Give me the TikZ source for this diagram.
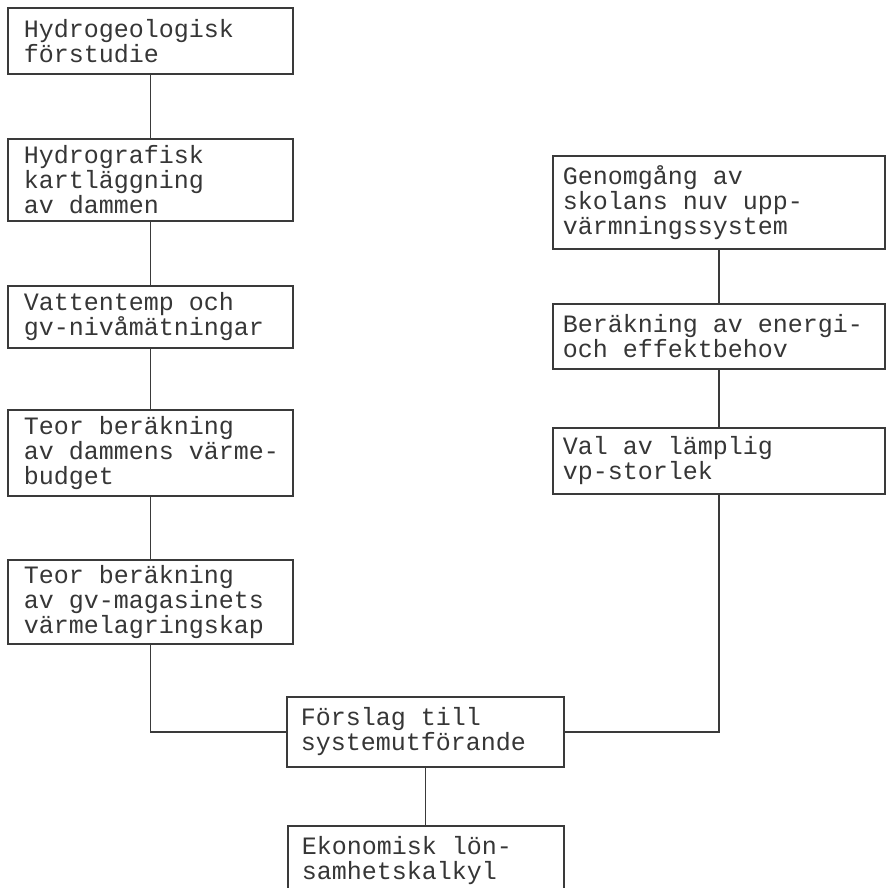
\documentclass[tikz,border=0pt]{standalone}
\usepackage{fontspec}
\newfontfamily\tw{Liberation Mono}
\definecolor{ink}{HTML}{3A3A3A}
\definecolor{txt}{HTML}{363636}
\newcommand{\twfont}{\tw\fontsize{25}{25}\selectfont\exhyphenpenalty=10000\hyphenpenalty=10000\hbadness=10000\hfuzz=50pt\relax}
\newcommand{\spc}{\kern0.6em\relax}
\begin{document}
\begin{tikzpicture}[x=1pt,y=-1pt,
  bx/.style={draw=ink, line width=1.8pt, anchor=north west, inner xsep=0pt, inner ysep=0pt,
    align=left, font=\twfont, text=txt},
  ln/.style={draw=ink, line width=1.8pt}]
\useasboundingbox (0,0) rectangle (892,887);
% left column
\node[bx, minimum width=285pt, minimum height=66pt, text width=253pt] (b1) at (7,7) {Hydrogeologisk\\förstudie};
\node[bx, minimum width=285pt, minimum height=82pt, text width=253pt] (b2) at (7,138) {Hydrografisk\\kartläggning\\av\spc dammen};
\node[bx, minimum width=285pt, minimum height=62pt, text width=253pt] (b3) at (7,285) {Vattentemp\spc och\\gv-nivåmätningar};
\node[bx, minimum width=285pt, minimum height=86pt, text width=253pt] (b4) at (7,409) {Teor\spc beräkning\\av\spc dammens\spc värme-\\budget};
\node[bx, minimum width=285pt, minimum height=84pt, text width=253pt] (b5) at (7,559) {Teor\spc beräkning\\av\spc gv-magasinets\\värmelagringskap};
% right column
\node[bx, minimum width=332pt, minimum height=93pt, text width=312pt] (b6) at (552,155) {Genomgång\spc av\\skolans\spc nuv\spc upp-\\värmningssystem};
\node[bx, minimum width=332pt, minimum height=65pt, text width=312pt] (b7) at (552,303) {Beräkning\spc av\spc energi-\\och\spc effektbehov};
\node[bx, minimum width=332pt, minimum height=66pt, text width=312pt] (b8) at (552,427) {Val\spc av\spc lämplig\\vp-storlek};
% bottom
\node[bx, minimum width=277pt, minimum height=70pt, text width=249pt] (f) at (286,696) {Förslag\spc till\\systemutförande};
\node[bx, minimum width=276pt, minimum height=70pt, text width=248pt] (e) at (287,825) {Ekonomisk\spc lön-\\samhetskalkyl};
% connectors
\draw[ln] (b1) -- (b2);
\draw[ln] (b2) -- (b3);
\draw[ln] (b3) -- (b4);
\draw[ln] (b4) -- (b5);
\draw[ln] (b5.south) |- (f.west);
\draw[ln] (b6) -- (b7);
\draw[ln] (b7) -- (b8);
\draw[ln] (b8.south) |- (f.east);
\draw[ln] (f.south) -- (f.south |- e.north);
\end{tikzpicture}
\end{document}
